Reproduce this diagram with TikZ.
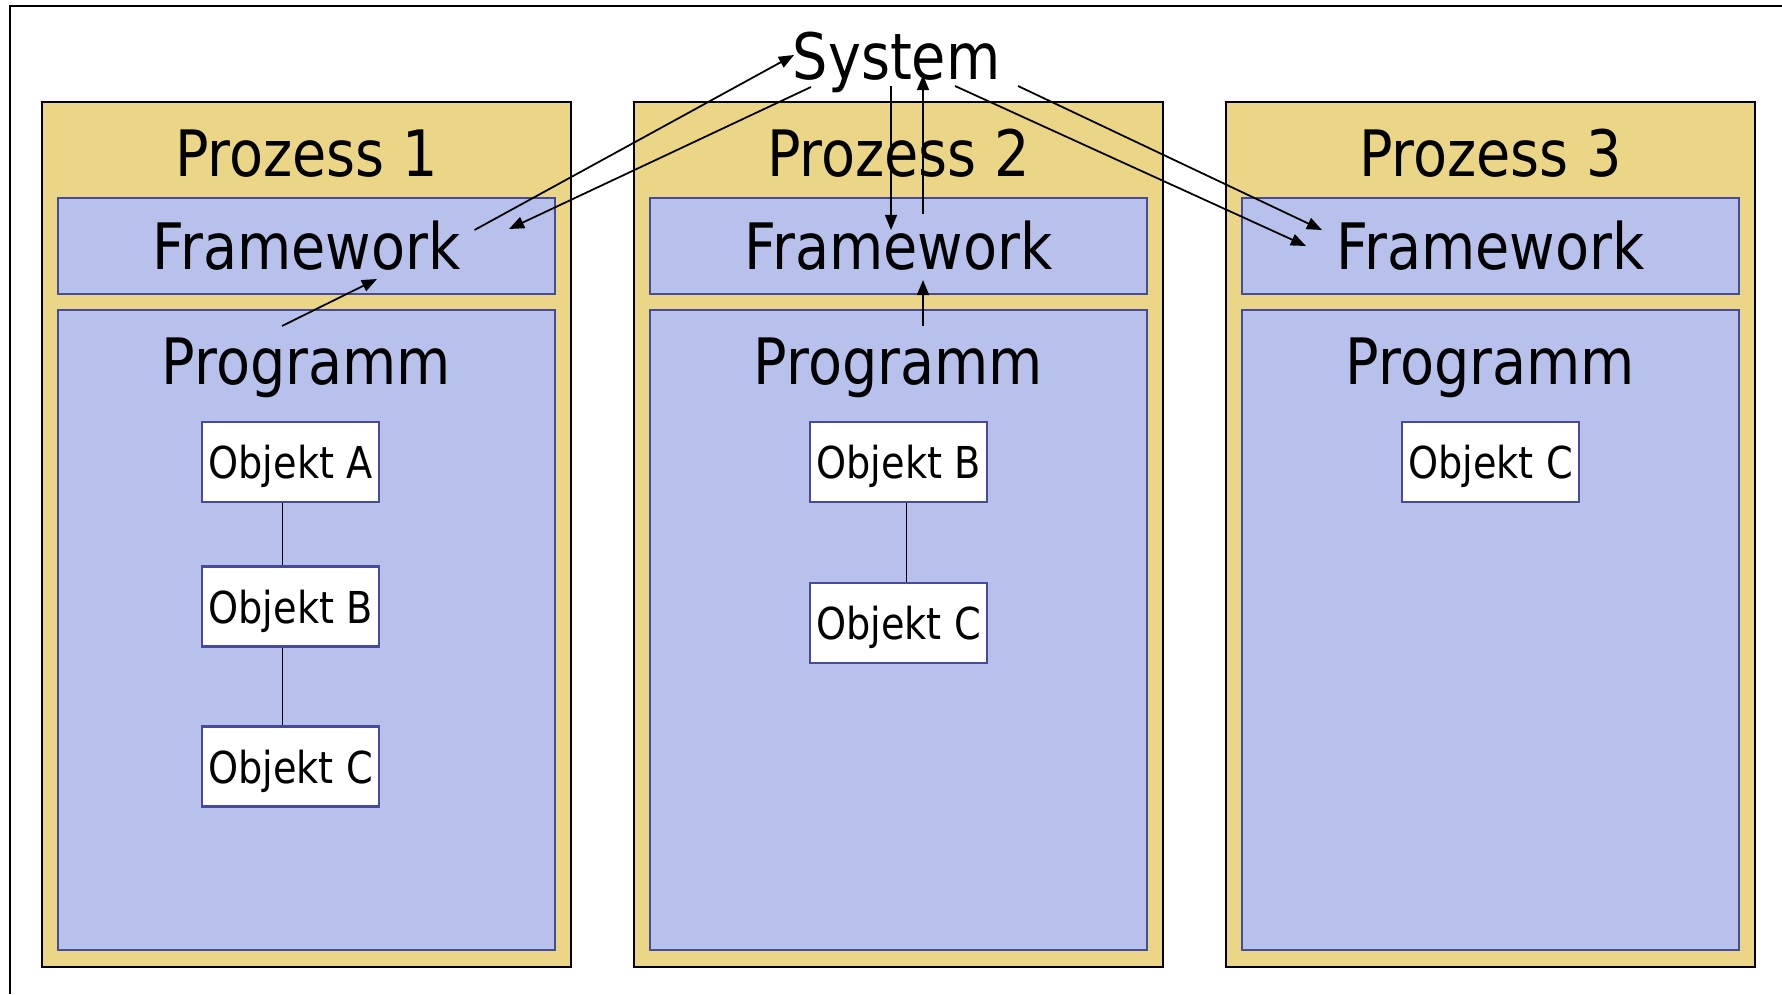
\documentclass[tikz,border=0pt]{standalone}
\usepackage{fontspec}
\setmainfont{DejaVu Sans}[FakeStretch=0.87]
\usetikzlibrary{arrows.meta}
\definecolor{prozessgelb}{RGB}{235,214,135}
\definecolor{schichtblau}{RGB}{184,193,235}
\definecolor{randblau}{RGB}{72,76,152}
\tikzset{
	prozess/.style={draw=black, fill=prozessgelb, line width=0.6pt, minimum width=5.29cm, minimum height=8.65cm, inner sep=0pt},
	schicht/.style={draw=randblau, fill=schichtblau, line width=0.6pt, minimum width=4.97cm, inner sep=0pt},
	objekt/.style={draw=randblau, fill=white, line width=0.6pt, minimum width=1.77cm, minimum height=0.8cm, inner sep=0pt, text depth=0pt, font=\fontsize{12.5}{14}\selectfont},
	gross/.style={font=\fontsize{18.2}{21}\selectfont, inner sep=0pt},
	pfeil/.style={-{Triangle[length=4.3pt,width=3.4pt]}, line width=0.5pt},
	kante/.style={line width=0.5pt},
}

\begin{document}
\begin{tikzpicture}[x=0.01cm, y=-0.01cm]
\useasboundingbox (0,0) rectangle (1782,994);
\draw[line width=0.6pt] (10,994) -- (10,6) -- (1782,6);

	\node[prozess] (p1) at (306.5,534.5) {};
	\node[prozess] (p2) at (898.5,534.5) {};
	\node[prozess] (p3) at (1490.5,534.5) {};

	\node[gross, anchor=base] (t1) at (306.5,177) {Prozess 1};
	\node[gross, anchor=base] (t2) at (898.5,177) {Prozess 2};
	\node[gross, anchor=base] (t3) at (1490.5,177) {Prozess 3};

	\node[schicht, gross, minimum height=0.96cm] (fw1) at (306.5,246) {Framework};
	\node[schicht, gross, minimum height=0.96cm] (fw2) at (898.5,246) {Framework};
	\node[schicht, gross, minimum height=0.96cm] (fw3) at (1490.5,246) {Framework};

	\node[schicht, minimum height=6.4cm] (pg1) at (306.5,630) {};
	\node[schicht, minimum height=6.4cm] (pg2) at (898.5,630) {};
	\node[schicht, minimum height=6.4cm] (pg3) at (1490.5,630) {};

	\node[gross, anchor=base] (pt1) at (306.5,384) {Programm};
	\node[gross, anchor=base] (pt2) at (898.5,384) {Programm};
	\node[gross, anchor=base] (pt3) at (1490.5,384) {Programm};

	\node[objekt] (a1) at (290.5,462) {Objekt A};
	\node[objekt] (b1) at (290.5,606.5) {Objekt B};
	\node[objekt] (c1) at (290.5,766.5) {Objekt C};
	\node[objekt] (b2) at (898.5,462) {Objekt B};
	\node[objekt] (c2) at (898.5,623) {Objekt C};
	\node[objekt] (c3) at (1490.5,462) {Objekt C};

	\draw[kante] ([xshift=-0.08cm]a1.south) -- ([xshift=-0.08cm]b1.north);
	\draw[kante] ([xshift=-0.08cm]b1.south) -- ([xshift=-0.08cm]c1.north);
	\draw[kante] ([xshift=0.08cm]b2.south) -- ([xshift=0.08cm]c2.north);

	\node[gross, anchor=base] (sys) at (896.5,80) {System};

	% Aufrufe zwischen System und Framework
	\coordinate (fw1aus) at (474.5,230);
	\coordinate (sysein1) at (794,55);
	\coordinate (sysaus1) at (811,87);
	\coordinate (fw1ein) at (509,229);
	\coordinate (pg1aus) at (282,326);
	\coordinate (fw1unten) at (377,279);
	\coordinate (sysaus2) at (891,86);
	\coordinate (fw2ein) at (891,230);
	\coordinate (fw2aus) at (923,214);
	\coordinate (sysein2) at (923,75);
	\coordinate (pg2aus) at (923,326);
	\coordinate (fw2unten) at (923,280);
	\coordinate (sysaus3) at (955,86);
	\coordinate (fw3ein) at (1306,246);
	\coordinate (sysaus4) at (1018,86);
	\coordinate (fw3ein2) at (1322,230);

	\draw[pfeil] (fw1aus) -- (sysein1);
	\draw[pfeil] (sysaus1) -- (fw1ein);
	\draw[pfeil] (pg1aus) -- (fw1unten);
	\draw[pfeil] (sysaus2) -- (fw2ein);
	\draw[pfeil] (fw2aus) -- (sysein2);
	\draw[pfeil] (pg2aus) -- (fw2unten);
	\draw[pfeil] (sysaus3) -- (fw3ein);
	\draw[pfeil] (sysaus4) -- (fw3ein2);

\end{tikzpicture}
\end{document}
